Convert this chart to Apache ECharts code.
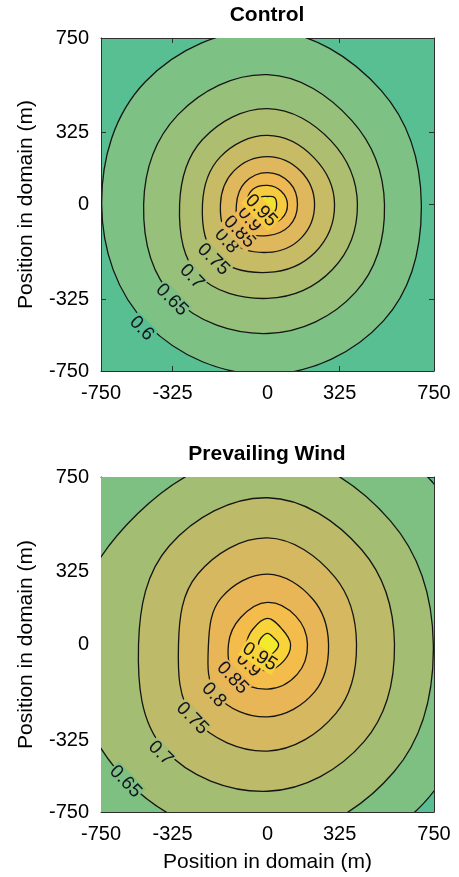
<!DOCTYPE html>
<html>
<head>
<meta charset="utf-8">
<script src="https://cdn.jsdelivr.net/npm/echarts@6/dist/echarts.min.js"></script>
<style>
  html, body { margin: 0; padding: 0; background: #fff; }
  #main { width: 459px; height: 877px; }
</style>
</head>
<body>
<div id="main"></div>
<script>
// contour levels and the fill colour inside each one (one palette per panel)
const levels = [0.6, 0.65, 0.7, 0.75, 0.8, 0.85, 0.9, 0.95];
const controlColors = ['#7EC184', '#97C07A', '#AEBE70', '#C7BB66', '#DFB75C', '#EEB952', '#F7CB40', '#F2E230'];
const windColors = ['#7DC081', '#A3BE73', '#BDBB69', '#D5B860', '#E9B657', '#F4BD4B', '#F9D33A', '#F3EA2C'];
const outsideColor = '#58BF93';

// contour radius (m) from the peak, read in 8 directions: E, NE, N, NW, W, SW, S, SE
const directions = [0, 45, 90, 135, 180, 225, 270, 315];
const controlRadii = [
  [693, 725, 785, 780, 747, 765, 765, 740],
  [527, 536, 585, 571, 558, 595, 581, 560],
  [405, 405, 432, 414, 396, 445, 423, 414],
  [302, 297, 311, 302, 293, 330, 306, 304],
  [212, 212, 216, 214, 212, 232, 216, 214],
  [135, 140, 144, 142, 140, 165, 140, 138],
  [90, 86, 86, 95, 95, 108, 86, 90],
  [41, 45, 36, 45, 45, 50, 41, 45]
];
const windRadii = [
  [930, 1040, 1000, 1170, 1125, 1170, 1000, 1000],
  [747, 783, 855, 828, 885, 880, 870, 806],
  [572, 600, 657, 625, 581, 660, 657, 615],
  [401, 428, 477, 445, 401, 468, 477, 436],
  [275, 288, 315, 295, 266, 322, 324, 300],
  [180, 180, 189, 171, 176, 205, 200, 189],
  [104, 95, 117, 95, 95, 117, 117, 104],
  [50, 41, 50, 41, 41, 45, 50, 45]
];

// inline contour labels: x (m), y (m), level index
const controlLabelPos = [[-567, -558, 0], [-431, -430, 1], [-341, -325, 2], [-244, -248, 3],
  [-185, -165, 4], [-127, -123, 5], [-82, -67, 6], [-29, -28, 7]];
const windLabelPos = [[-640, -614, 1], [-482, -487, 2], [-339, -331, 3], [-242, -226, 4],
  [-158, -150, 5], [-86, -92, 6], [-35, -55, 7]];

// ticks as placed on the original axes
const tickPos = [-750, -428, 0, 325, 750];
const tickText = ['-750', '-325', '0', '325', '750'];

const font = 'Liberation Sans, Arial, Helvetica, sans-serif';
const frame = '#2e2e2e';

function makeAxis(gridIndex, position, withLabels, name, gap) {
  return {
    type: 'value', gridIndex: gridIndex, position: position,
    min: -750, max: 750,
    name: name || '', nameLocation: 'middle', nameGap: gap || 0,
    nameTextStyle: { color: '#000', fontSize: 21, fontFamily: font },
    axisLine: { show: true, onZero: false, lineStyle: { color: frame, width: 1 } },
    axisTick: { show: true, inside: true, length: 5, customValues: tickPos, lineStyle: { color: frame, width: 1 } },
    axisLabel: {
      show: withLabels, customValues: tickPos, color: '#000', fontSize: 20, fontFamily: font, margin: 12,
      formatter: v => tickText[tickPos.indexOf(v)]
    },
    splitLine: { show: false }
  };
}

function fillSeries(gi, radii, colors) {
  return {
    type: 'custom', xAxisIndex: gi * 2, yAxisIndex: gi * 2, clip: true, silent: true,
    data: levels.map((lv, i) => [0, 0, i]),
    renderItem: function (params, api) {
      const i = api.value(2);
      const r = radii[i];
      const pts = directions.map((d, k) => {
        const a = d * Math.PI / 180;
        return api.coord([r[k] * Math.cos(a), r[k] * Math.sin(a)]);
      });
      return {
        type: 'polygon',
        shape: { points: pts, smooth: 0.375 },
        style: { fill: colors[i], stroke: '#151515', lineWidth: 1.3 }
      };
    }
  };
}

function labelSeries(gi, pos, colors) {
  return {
    type: 'custom', xAxisIndex: gi * 2, yAxisIndex: gi * 2, clip: true, silent: true, z: 5,
    data: pos,
    renderItem: function (params, api) {
      const x = api.value(0), y = api.value(1);
      const i = api.value(2);
      const pt = api.coord([x, y]);
      let rot = Math.atan2(y, x) + Math.PI / 2;
      while (rot > Math.PI / 2) rot -= Math.PI;
      while (rot < -Math.PI / 2) rot += Math.PI;
      return {
        type: 'text', x: pt[0], y: pt[1], rotation: rot,
        style: {
          text: String(levels[i]), fill: '#121420',
          fontSize: 19, fontFamily: font, align: 'center', verticalAlign: 'middle',
          backgroundColor: i === 0 ? outsideColor : colors[i - 1], padding: [0, 1]
        }
      };
    }
  };
}

const chart = echarts.init(document.getElementById('main'), null, { renderer: 'canvas' });
chart.setOption({
  backgroundColor: '#fff',
  animation: false,
  graphic: [
    { type: 'text', x: 267, y: 15, style: { text: 'Control', fill: '#000', font: 'bold 21px ' + font, align: 'center', verticalAlign: 'middle' } },
    { type: 'text', x: 267, y: 454, style: { text: 'Prevailing Wind', fill: '#000', font: 'bold 21px ' + font, align: 'center', verticalAlign: 'middle' } }
  ],
  grid: [
    { left: 101, top: 38, width: 333, height: 333, show: true, backgroundColor: outsideColor, borderWidth: 0 },
    { left: 101, top: 477, width: 333, height: 335, show: true, backgroundColor: outsideColor, borderWidth: 0 }
  ],
  xAxis: [
    makeAxis(0, 'bottom', true),
    makeAxis(0, 'top', false),
    makeAxis(1, 'bottom', true, 'Position in domain (m)', 40),
    makeAxis(1, 'top', false)
  ],
  yAxis: [
    makeAxis(0, 'left', true, 'Position in domain (m)', 64),
    makeAxis(0, 'right', false),
    makeAxis(1, 'left', true, 'Position in domain (m)', 64),
    makeAxis(1, 'right', false)
  ],
  series: [
    fillSeries(0, controlRadii, controlColors),
    labelSeries(0, controlLabelPos, controlColors),
    fillSeries(1, windRadii, windColors),
    labelSeries(1, windLabelPos, windColors)
  ]
});
window.onresize = function () { chart.resize(); };
</script>
</body>
</html>
